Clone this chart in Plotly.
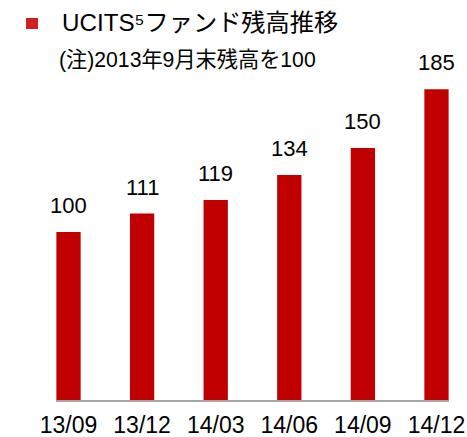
import plotly.graph_objects as go

categories = ["13/09", "13/12", "14/03", "14/06", "14/09", "14/12"]
values = [100, 111, 119, 134, 150, 185]
title_text = "UCITS⁵ファンド残高推移"
note_text = "(注)2013年9月末残高を100"

W, H = 467, 437
ML, MR, MT, MB = 56, 18, 64, 37
FONT = "Liberation Sans, Arial, Noto Sans CJK JP"
RED = "#C00000"

def px_x(px):
    return (px - ML) / (W - ML - MR)

def px_y(py):
    return (H - MB - py) / (H - MT - MB)

fig = go.Figure(go.Bar(
    x=categories, y=values, marker=dict(color=RED, line=dict(width=0)),
    width=0.33, hoverinfo="skip",
))

annotations = [
    dict(x=c, y=v, xref="x", yref="y", text=str(v), showarrow=False,
         yanchor="bottom", yshift=12, font=dict(size=22, color="#000000", family=FONT))
    for c, v in zip(categories, values)
]
annotations.append(dict(xref="paper", yref="paper", x=px_x(60), y=px_y(22), text=title_text,
                        showarrow=False, xanchor="left", yanchor="middle",
                        font=dict(size=24.2, color="#000000", family=FONT)))
annotations.append(dict(xref="paper", yref="paper", x=px_x(57), y=px_y(60), text=note_text,
                        showarrow=False, xanchor="left", yanchor="middle",
                        font=dict(size=21.2, color="#000000", family=FONT)))
shapes = [dict(type="rect", xref="paper", yref="paper",
               x0=px_x(26), x1=px_x(38), y0=px_y(29), y1=px_y(18),
               fillcolor="#D02020", line=dict(width=0))]

fig.update_layout(
    width=W, height=H,
    margin=dict(l=ML, r=MR, t=MT, b=MB, pad=0, autoexpand=False),
    paper_bgcolor="white", plot_bgcolor="white",
    showlegend=False,
    annotations=annotations,
    shapes=shapes,
    xaxis=dict(range=[-0.17, 5.17], showline=True, linecolor="#A6A6A6", linewidth=2,
               showgrid=False, zeroline=False, ticks="outside", ticklen=3,
               tickcolor="rgba(0,0,0,0)", automargin=False,
               tickfont=dict(size=23, color="#000000", family=FONT), fixedrange=True),
    yaxis=dict(range=[0, 200], visible=False, showgrid=False, zeroline=False,
               automargin=False, fixedrange=True),
)

fig.write_html("out.html", config={"displayModeBar": False, "staticPlot": True},
               post_script="document.body.style.margin='0';document.body.style.overflow='hidden';")
